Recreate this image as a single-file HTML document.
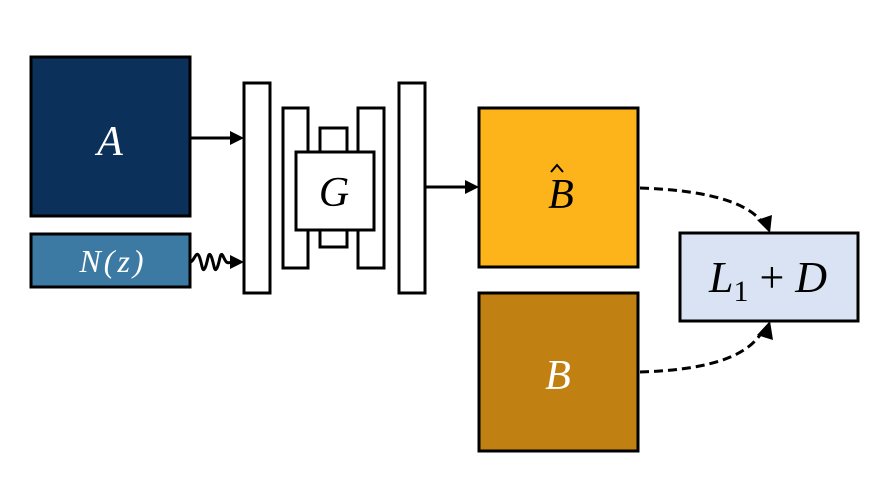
<!DOCTYPE html>
<html><head><meta charset="utf-8"><style>
html,body{margin:0;padding:0;background:#fff;}
svg text{font-family:"Liberation Serif","DejaVu Serif",serif;font-style:italic;}
</style></head><body>
<svg width="884" height="479" viewBox="0 0 884 479" xmlns="http://www.w3.org/2000/svg">
<g stroke="#000" stroke-width="3">
<rect x="31" y="57" width="159" height="159" fill="#0b315b"/>
<rect x="31" y="234" width="159" height="53" fill="#3d7aa3"/>
<rect x="244" y="83" width="26" height="210" fill="#fff"/>
<rect x="283" y="108" width="25" height="160" fill="#fff"/>
<rect x="320" y="128" width="27" height="119" fill="#fff"/>
<rect x="358" y="108" width="26" height="160" fill="#fff"/>
<rect x="296" y="152" width="78" height="78" fill="#fff"/>
<rect x="399" y="83" width="26" height="210" fill="#fff"/>
<rect x="479" y="108" width="159" height="159" fill="#fdb41a"/>
<rect x="479" y="293" width="159" height="158" fill="#c08012"/>
<rect x="680" y="233" width="178" height="88" fill="#dae3f3"/>
</g>
<g stroke="#000" stroke-width="3" fill="none">
<line x1="190" y1="138" x2="232" y2="138"/>
<path d="M190,262 C194,262 196,250 199,256 C202,262 202,274 205,268 C208,262 208,250 211,256 C214,262 214,274 217,268 C220,262 220,250 223,256 C226,262 226,264 232,262"/>
<line x1="425" y1="187" x2="467" y2="187"/>
<path d="M640,188 C700,190 745,200 762,222" stroke-dasharray="9,5"/>
<path d="M640,372 C700,370 745,360 762,332" stroke-dasharray="9,5"/>
<path d="M551,172 L557,165 L563,172" stroke-width="2"/>
</g>
<g fill="#000">
<path d="M230,131 L244,138 L230,145 z"/>
<path d="M230,255 L244,262 L230,269 z"/>
<path d="M465,180 L479,187 L465,194 z"/>
<path d="M757,220 L770,233 L772,215 z"/>
<path d="M757,335 L770,321 L773,340 z"/>
</g>
<text x="110" y="155" font-size="42" fill="#fff" text-anchor="middle">A</text>
<text x="113" y="272" font-size="32" fill="#fff" text-anchor="middle" letter-spacing="3">N(z)</text>
<text x="334" y="206" font-size="42" fill="#000" text-anchor="middle">G</text>
<text x="561" y="208" font-size="42" fill="#000" text-anchor="middle">B</text>
<text x="558" y="389" font-size="42" fill="#fff" text-anchor="middle">B</text>
<text x="768" y="292" font-size="44" fill="#000" text-anchor="middle">L<tspan font-size="30" font-style="normal" dy="9">1</tspan><tspan dy="-9" font-style="normal"> + </tspan>D</text>
</svg>
</body></html>
